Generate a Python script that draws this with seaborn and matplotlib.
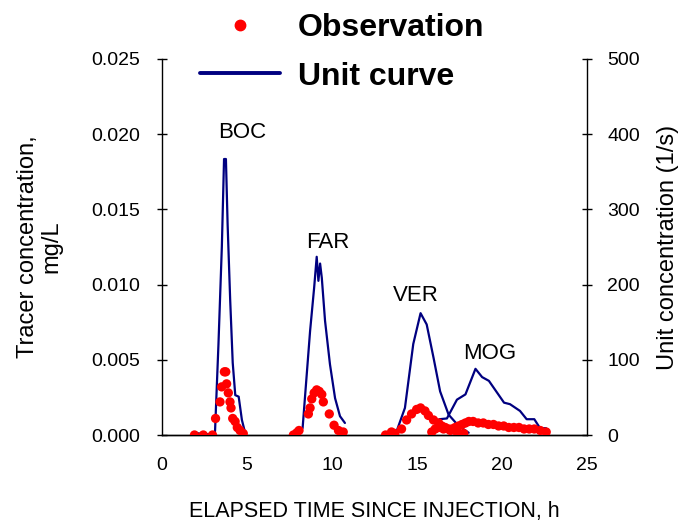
import numpy as np
import pandas as pd
import seaborn as sns
import matplotlib.pyplot as plt
from matplotlib.lines import Line2D

# unit curves (1/s)
boc_t = [1.94, 2.43, 3.02, 3.12, 3.32, 3.52, 3.65, 3.76, 3.86, 4.01, 4.16, 4.31, 4.51, 4.70, 4.90]
boc_u = [3, 1, 1, 5, 120, 250, 367, 367, 280, 180, 96, 53, 51, 20, 2]
far_t = [7.83, 8.27, 8.71, 8.95, 9.10, 9.20, 9.30, 9.40, 9.59, 9.88, 10.18, 10.47, 10.76]
far_u = [2, 9, 138, 196, 237, 205, 228, 209, 152, 94, 49, 25, 16]
ver_t = [13.20, 13.80, 14.29, 14.78, 15.21, 15.57, 15.97, 16.36, 16.86, 17.45, 18.04]
ver_u = [0, 5, 36, 121, 162, 147, 103, 58, 27, 12, 3]
mog_t = [15.97, 16.32, 16.76, 17.35, 17.85, 18.44, 18.83, 19.23, 20.12, 20.47, 21.06, 21.45, 21.90, 22.24, 22.59]
mog_u = [4, 21, 22, 47, 54, 88, 77, 72, 43, 41, 32, 21, 21, 9, 9]

# observations (mg/L)
boc_obs_t = [1.91, 2.43, 2.97, 3.15, 3.41, 3.51, 3.67, 3.75, 3.80, 3.90, 4.00, 4.06, 4.16, 4.30, 4.43, 4.59, 4.78]
boc_obs_c = [0.0, 0.0, 0.0, 0.0011, 0.0022, 0.0032, 0.0042, 0.0042, 0.0034, 0.0028,
             0.0022, 0.0018, 0.0011, 0.0009, 0.0005, 0.0003, 0.0001]
far_obs_t = [7.73, 7.93, 8.06, 8.61, 8.71, 8.81, 8.95, 9.10, 9.25, 9.40, 9.49, 9.84, 10.12, 10.38, 10.66]
far_obs_c = [0.0, 0.00015, 0.0003, 0.0014, 0.0018, 0.0024, 0.0028, 0.003, 0.0029, 0.0027,
             0.0022, 0.0014, 0.00065, 0.0003, 0.0002]
ver_obs_t = [13.15, 13.50, 13.70, 14.09, 14.39, 14.68, 14.98, 15.21, 15.47, 15.67, 15.97, 16.27, 16.56, 16.96, 17.35, 17.75]
ver_obs_c = [0.0, 0.0002, 0.0001, 0.0004, 0.001, 0.0014, 0.0017, 0.0018, 0.0016, 0.0013,
             0.001, 0.0008, 0.0004, 0.0003, 0.0002, 0.0001]
mog_obs_t = [15.87, 16.07, 16.27, 16.46, 16.66, 16.86, 17.06, 17.25, 17.45, 17.65, 17.85, 18.05, 18.3,
             18.6, 18.9, 19.2, 19.5, 19.8, 20.1, 20.4, 20.7, 21.0, 21.3, 21.6, 21.9, 22.25, 22.6]
mog_obs_c = [0.0002, 0.0004, 0.0005, 0.0006, 0.0005, 0.0004, 0.0004, 0.0005, 0.0006, 0.0007,
             0.0008, 0.0009, 0.0009, 0.0008, 0.0008, 0.0007, 0.0007, 0.0006, 0.0006, 0.0005,
             0.0005, 0.0005, 0.0004, 0.0004, 0.0004, 0.0003, 0.0002]

sites = ['BOC', 'FAR', 'VER', 'MOG']
label_pos = {'BOC': (4.7, 0.0201), 'FAR': (9.76, 0.0128), 'VER': (14.94, 0.0093), 'MOG': (19.3, 0.0054)}

unit_df = pd.concat([
    pd.DataFrame({'site': s, 't': t, 'u': u})
    for s, t, u in zip(sites, [boc_t, far_t, ver_t, mog_t], [boc_u, far_u, ver_u, mog_u])
])
obs_df = pd.concat([
    pd.DataFrame({'site': s, 't': t, 'c': c})
    for s, t, c in zip(sites, [boc_obs_t, far_obs_t, ver_obs_t, mog_obs_t],
                       [boc_obs_c, far_obs_c, ver_obs_c, mog_obs_c])
])

sns.set_style('white')
plt.rcParams['font.family'] = ['Liberation Sans', 'DejaVu Sans']
for k in ('text.color', 'axes.labelcolor', 'xtick.color', 'ytick.color'):
    plt.rcParams[k] = 'black'

fig = plt.figure(figsize=(6.8, 5.23), dpi=100)
ax = fig.add_axes([162 / 680, 88 / 523, 425 / 680, 376 / 523])
ax2 = ax.twinx()

sns.scatterplot(data=obs_df, x='t', y='c', color='#ff0000', edgecolor='none', s=45, ax=ax, zorder=3)
sns.lineplot(data=unit_df, x='t', y='u', units='site', estimator=None, color='#000080',
             linewidth=1.6, ax=ax2, sort=False)

ax.set_xlim(0, 25)
ax.set_ylim(0, 0.025)
ax2.set_ylim(0, 500)
ax.set_xticks(np.arange(0, 26, 5))
ax.set_yticks(np.arange(0, 0.0251, 0.005))
ax.set_yticklabels(['%.3f' % v for v in np.arange(0, 0.0251, 0.005)])
ax2.set_yticks(np.arange(0, 501, 100))

ax.set_zorder(ax2.get_zorder() + 1)
ax.patch.set_visible(False)

for a in (ax, ax2):
    a.spines['top'].set_visible(False)
    for sp in a.spines.values():
        sp.set_color('black')
        sp.set_linewidth(1.0)
    a.tick_params(direction='inout', length=7, width=1, labelsize=14, colors='black')
ax.tick_params(axis='x', pad=12)
ax.tick_params(axis='y', pad=12)
ax2.tick_params(axis='y', pad=11)
ax2.spines['left'].set_visible(False)
ax.spines['right'].set_visible(False)
ax2.spines['right'].set_visible(True)

ax.set_xlabel('ELAPSED TIME SINCE INJECTION, h', fontsize=15.5)
ax.xaxis.set_label_coords(0.5, -0.175)
ax.set_ylabel('Tracer concentration,\nmg/L', fontsize=17, linespacing=1.05)
ax.yaxis.set_label_coords(-0.235, 0.5)
ax2.set_ylabel('Unit concentration (1/s)', fontsize=17)
ax2.yaxis.set_label_coords(1.165, 0.5)

for s in sites:
    x, y = label_pos[s]
    ax.text(x, y, s, fontsize=16, ha='center', va='center')

handles = [
    Line2D([], [], marker='o', color='#ff0000', linestyle='none', markersize=7.5),
    Line2D([], [], color='#000080', linewidth=2.8),
]
fig.legend(handles, ['Observation', 'Unit curve'], loc='upper left',
           bbox_to_anchor=(200 / 680, 1 - 13 / 523), frameon=False, borderpad=0,
           borderaxespad=0, handlelength=2.5, handletextpad=0.56, labelspacing=0.58,
           prop={'size': 23, 'weight': 'bold'})

fig.savefig('out.png', dpi=100)
